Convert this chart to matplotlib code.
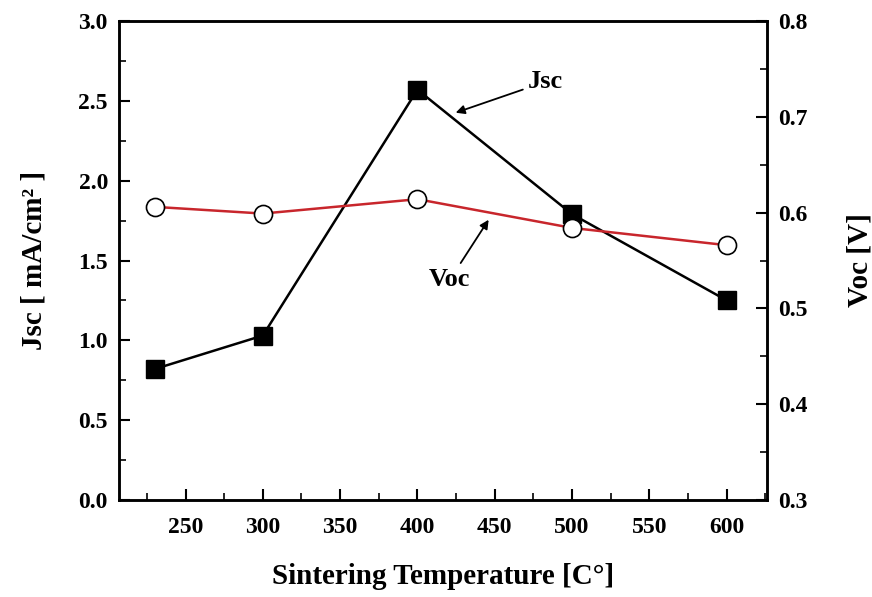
import matplotlib
matplotlib.use("Agg")
import matplotlib.pyplot as plt
from matplotlib.ticker import MultipleLocator

# sintering temperature (C)
temps = [230, 300, 400, 500, 600]
jsc = [0.82, 1.03, 2.57, 1.79, 1.25]          # mA/cm2
voc = [0.606, 0.599, 0.614, 0.584, 0.566]     # V

plt.rcParams['font.family'] = ['Liberation Serif', 'DejaVu Serif']
plt.rcParams['font.weight'] = 'bold'

fig = plt.figure(figsize=(8.72, 5.97), dpi=100)
ax = fig.add_axes([0.1365, 0.1625, 0.743, 0.8023])
ax2 = ax.twinx()

ax.plot(temps, jsc, color='black', lw=1.8, marker='s', ms=13,
        mfc='black', mec='black', zorder=3)
ax2.plot(temps, voc, color='#c8262c', lw=1.8, marker='o', ms=13,
         mfc='white', mec='black', mew=1.2, zorder=3)

ax.set_xlim(207, 626)
ax.set_ylim(0, 3.0)
ax2.set_ylim(0.3, 0.8)

ax.xaxis.set_major_locator(MultipleLocator(50))
ax.xaxis.set_minor_locator(MultipleLocator(25))
ax.yaxis.set_major_locator(MultipleLocator(0.5))
ax.yaxis.set_minor_locator(MultipleLocator(0.25))
ax2.yaxis.set_major_locator(MultipleLocator(0.1))
ax2.yaxis.set_minor_locator(MultipleLocator(0.05))

for a in (ax, ax2):
    a.tick_params(which='major', direction='in', length=8, width=1.5, labelsize=17, pad=8)
    a.tick_params(which='minor', direction='in', length=5, width=1.2)
    for s in a.spines.values():
        s.set_linewidth(1.8)
ax.tick_params(axis='x', which='both', top=False, pad=12)
ax.tick_params(axis='y', which='both', right=False)

ax.set_xlabel('Sintering Temperature [C°]', fontsize=21, fontweight='bold', labelpad=18)
ax.set_ylabel('Jsc [ mA/cm² ]', fontsize=21, fontweight='bold', labelpad=22)
ax2.set_ylabel('Voc [V]', fontsize=21, fontweight='bold', labelpad=28)

arrow = dict(arrowstyle='-|>', color='black', lw=1.3, mutation_scale=13)
ax.annotate('Jsc', xy=(423, 2.42), xytext=(483, 2.62), fontsize=19,
            fontweight='bold', ha='center', va='center', arrowprops=arrow)
ax2.annotate('Voc', xy=(447, 0.595), xytext=(421, 0.53), fontsize=19,
             fontweight='bold', ha='center', va='center', arrowprops=arrow)

fig.savefig('out.png', dpi=100)
